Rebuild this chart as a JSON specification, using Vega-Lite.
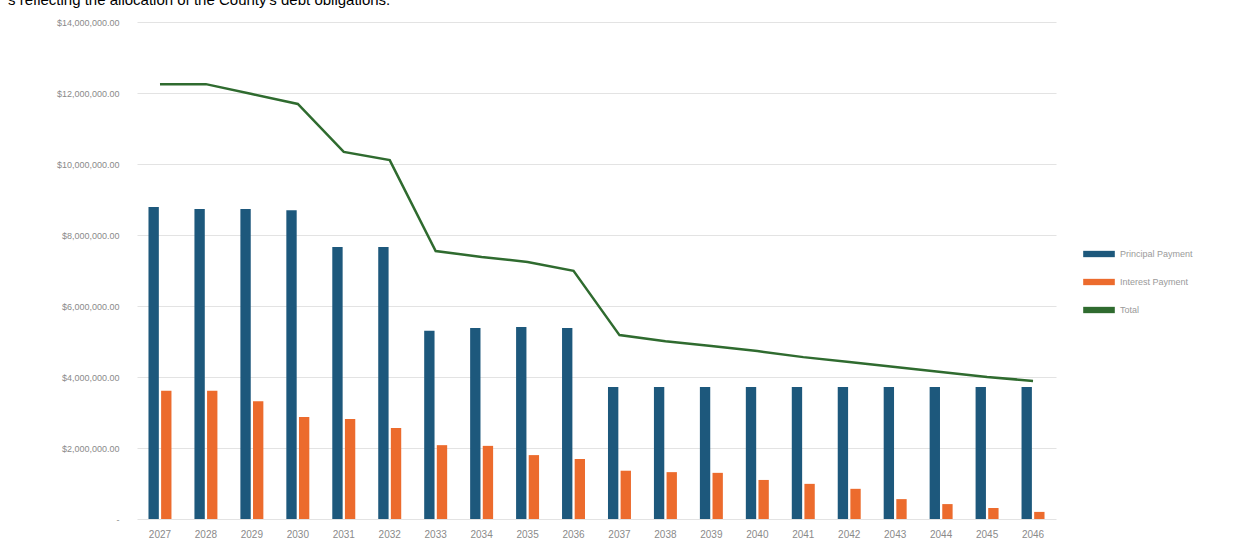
{
  "$schema": "https://vega.github.io/schema/vega-lite/v6.json",
  "width": 919,
  "height": 497,
  "autosize": {"type": "none"},
  "padding": {"left": 137, "top": 22, "right": 198, "bottom": 36},
  "background": "white",
  "title": {
    "text": "s reflecting the allocation of the County's debt obligations.",
    "anchor": "start",
    "frame": "group",
    "dx": -129,
    "dy": 11,
    "offset": 9,
    "baseline": "alphabetic",
    "fontSize": 15,
    "font": "Liberation Sans",
    "fontWeight": "normal",
    "color": "#000000"
  },
  "config": {
    "view": {"stroke": null},
    "font": "Liberation Sans"
  },
  "datasets": {
    "bars": [
      {"year": "2027", "series": "Principal Payment", "amount": 8790000},
      {"year": "2027", "series": "Interest Payment", "amount": 3610000},
      {"year": "2028", "series": "Principal Payment", "amount": 8730000},
      {"year": "2028", "series": "Interest Payment", "amount": 3610000},
      {"year": "2029", "series": "Principal Payment", "amount": 8730000},
      {"year": "2029", "series": "Interest Payment", "amount": 3320000},
      {"year": "2030", "series": "Principal Payment", "amount": 8700000},
      {"year": "2030", "series": "Interest Payment", "amount": 2870000},
      {"year": "2031", "series": "Principal Payment", "amount": 7660000},
      {"year": "2031", "series": "Interest Payment", "amount": 2820000},
      {"year": "2032", "series": "Principal Payment", "amount": 7660000},
      {"year": "2032", "series": "Interest Payment", "amount": 2560000},
      {"year": "2033", "series": "Principal Payment", "amount": 5300000},
      {"year": "2033", "series": "Interest Payment", "amount": 2080000},
      {"year": "2034", "series": "Principal Payment", "amount": 5380000},
      {"year": "2034", "series": "Interest Payment", "amount": 2060000},
      {"year": "2035", "series": "Principal Payment", "amount": 5410000},
      {"year": "2035", "series": "Interest Payment", "amount": 1800000},
      {"year": "2036", "series": "Principal Payment", "amount": 5380000},
      {"year": "2036", "series": "Interest Payment", "amount": 1690000},
      {"year": "2037", "series": "Principal Payment", "amount": 3720000},
      {"year": "2037", "series": "Interest Payment", "amount": 1360000},
      {"year": "2038", "series": "Principal Payment", "amount": 3720000},
      {"year": "2038", "series": "Interest Payment", "amount": 1320000},
      {"year": "2039", "series": "Principal Payment", "amount": 3720000},
      {"year": "2039", "series": "Interest Payment", "amount": 1300000},
      {"year": "2040", "series": "Principal Payment", "amount": 3720000},
      {"year": "2040", "series": "Interest Payment", "amount": 1100000},
      {"year": "2041", "series": "Principal Payment", "amount": 3720000},
      {"year": "2041", "series": "Interest Payment", "amount": 990000},
      {"year": "2042", "series": "Principal Payment", "amount": 3720000},
      {"year": "2042", "series": "Interest Payment", "amount": 850000},
      {"year": "2043", "series": "Principal Payment", "amount": 3720000},
      {"year": "2043", "series": "Interest Payment", "amount": 560000},
      {"year": "2044", "series": "Principal Payment", "amount": 3720000},
      {"year": "2044", "series": "Interest Payment", "amount": 420000},
      {"year": "2045", "series": "Principal Payment", "amount": 3720000},
      {"year": "2045", "series": "Interest Payment", "amount": 310000},
      {"year": "2046", "series": "Principal Payment", "amount": 3720000},
      {"year": "2046", "series": "Interest Payment", "amount": 200000}
    ],
    "total": [
      {"year": "2027", "amount": 12250000},
      {"year": "2028", "amount": 12250000},
      {"year": "2029", "amount": 11970000},
      {"year": "2030", "amount": 11690000},
      {"year": "2031", "amount": 10340000},
      {"year": "2032", "amount": 10110000},
      {"year": "2033", "amount": 7550000},
      {"year": "2034", "amount": 7380000},
      {"year": "2035", "amount": 7240000},
      {"year": "2036", "amount": 6990000},
      {"year": "2037", "amount": 5180000},
      {"year": "2038", "amount": 5010000},
      {"year": "2039", "amount": 4870000},
      {"year": "2040", "amount": 4730000},
      {"year": "2041", "amount": 4560000},
      {"year": "2042", "amount": 4420000},
      {"year": "2043", "amount": 4280000},
      {"year": "2044", "amount": 4140000},
      {"year": "2045", "amount": 4000000},
      {"year": "2046", "amount": 3890000}
    ]
  },
  "encoding": {
    "x": {
      "field": "year",
      "type": "nominal",
      "scale": {"paddingInner": 0.5, "paddingOuter": 0.25},
      "axis": {
        "title": null,
        "labelAngle": 0,
        "domain": false,
        "ticks": false,
        "labelColor": "#8a8a8a",
        "labelFontSize": 10,
        "labelPadding": 10
      }
    },
    "y": {
      "field": "amount",
      "type": "quantitative",
      "scale": {"domain": [0, 14000000], "nice": false},
      "axis": {
        "title": null,
        "values": [0, 2000000, 4000000, 6000000, 8000000, 10000000, 12000000, 14000000],
        "labelExpr": "datum.value == 0 ? '-' : '$' + format(datum.value, ',.2f')",
        "domain": false,
        "ticks": false,
        "gridColor": "#e3e3e3",
        "gridWidth": 1,
        "labelColor": "#8a8a8a",
        "labelFontSize": 9,
        "labelPadding": 18
      }
    }
  },
  "layer": [
    {
      "data": {"name": "bars"},
      "mark": {"type": "bar"},
      "encoding": {
        "xOffset": {
          "field": "series",
          "type": "nominal",
          "sort": ["Principal Payment", "Interest Payment"],
          "scale": {"paddingInner": 0.18}
        },
        "color": {
          "field": "series",
          "type": "nominal",
          "scale": {
            "domain": ["Principal Payment", "Interest Payment", "Total"],
            "range": ["#1d587c", "#ec6b2d", "#2f6b2f"]
          },
          "legend": {
            "title": null,
            "orient": "none",
            "legendX": 946,
            "legendY": 216,
            "symbolType": "M-1,-0.2H1V0.2H-1Z",
            "symbolSize": 1000,
            "symbolStrokeWidth": 0,
            "rowPadding": 7,
            "labelColor": "#9a9a9a",
            "labelFontSize": 9,
            "labelOffset": 5
          }
        }
      }
    },
    {
      "data": {"name": "total"},
      "mark": {"type": "line", "strokeWidth": 2.5},
      "encoding": {
        "color": {"datum": "Total"}
      }
    }
  ]
}
